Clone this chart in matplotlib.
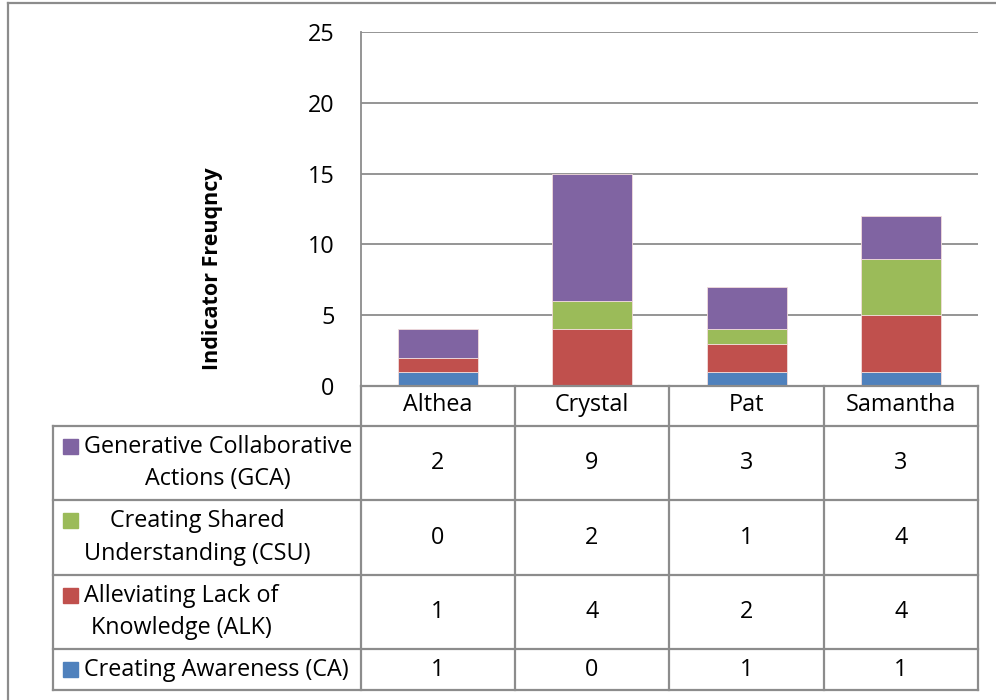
import matplotlib
matplotlib.use("Agg")
import matplotlib.pyplot as plt
from matplotlib.lines import Line2D
from matplotlib.patches import Rectangle

# Data
people = ["Althea", "Crystal", "Pat", "Samantha"]
series_names = [
    "Creating Awareness (CA)",
    "Alleviating Lack of\nKnowledge (ALK)",
    "Creating Shared\nUnderstanding (CSU)",
    "Generative Collaborative\nActions (GCA)",
]
ca = [1, 0, 1, 1]
alk = [1, 4, 2, 4]
csu = [0, 2, 1, 4]
gca = [2, 9, 3, 3]
colors = ["#4F81BD", "#C0504D", "#9BBB59", "#8064A2"]
y_ticks = [0, 5, 10, 15, 20, 25]

W, H = 996, 700
FONT = "Open Sans"
FS = 16.8
GRID = "#8c8c8c"

fig = plt.figure(figsize=(W / 100, H / 100), dpi=100)
fig.patch.set_facecolor("white")


def fx(px):
    return px / W


def fy(py):
    return 1 - py / H


# plot area in pixel coordinates
L, R, T, B = 361, 978, 32, 386
ax = fig.add_axes([fx(L), fy(B), fx(R) - fx(L), fy(T) - fy(B)])
ax.set_xlim(-0.5, len(people) - 0.5)
ax.set_ylim(0, 25)

series = [ca, alk, csu, gca]
bottom = [0] * len(people)
for vals, col in zip(series, colors):
    ax.bar(range(len(people)), vals, width=0.52, bottom=bottom, color=col,
           edgecolor="#f2dcdb", linewidth=0.6, zorder=3)
    bottom = [b + v for b, v in zip(bottom, vals)]

ax.set_yticks(y_ticks)
ax.set_yticklabels([str(t) for t in y_ticks], fontsize=FS, family=FONT)
ax.tick_params(axis="y", length=0, pad=19)
ax.set_xticks([])
for y in y_ticks[1:]:
    ax.axhline(y, color=GRID, lw=1.3, zorder=1)
for s in ["top", "right", "bottom"]:
    ax.spines[s].set_visible(False)
ax.spines["left"].set_color(GRID)
ax.spines["left"].set_linewidth(1.3)

fig.text(fx(212), fy(269), "Indicator Freuqncy", rotation=90, ha="center",
         va="center", fontsize=15.5, fontweight="bold", family=FONT)

# data table below the plot
col_x = [361, 515, 669, 824, 978]
row_y = [386, 426, 500, 575, 649, 690]
tl = 53


def hline(x0, x1, y):
    fig.add_artist(Line2D([fx(x0), fx(x1)], [fy(y), fy(y)], color=GRID, lw=1.6))


def vline(x, y0, y1):
    fig.add_artist(Line2D([fx(x), fx(x)], [fy(y0), fy(y1)], color=GRID, lw=1.6))


hline(col_x[0], col_x[-1], row_y[0])
for y in row_y[1:]:
    hline(tl, col_x[-1], y)
vline(tl, row_y[1], row_y[-1])
for x in col_x:
    vline(x, row_y[0], row_y[-1])

# header row
for i, name in enumerate(people):
    cx = (col_x[i] + col_x[i + 1]) / 2
    fig.text(fx(cx), fy((row_y[0] + row_y[1]) / 2 - 1), name, ha="center",
             va="center", fontsize=FS, family=FONT)

# value rows, top row is the last series
for r in range(4):
    si = 3 - r
    y0, y1 = row_y[r + 1], row_y[r + 2]
    cy = (y0 + y1) / 2
    sq_center = cy if r == 3 else y0 + 20
    fig.add_artist(Rectangle((fx(63), fy(sq_center + 7.5)), fx(15), 15 / H,
                             color=colors[si]))
    fig.text(fx(84), fy(cy), series_names[si], ha="left", va="center",
             multialignment="center", fontsize=FS, family=FONT, linespacing=1.45)
    vals = series[si]
    for i, v in enumerate(vals):
        cx = (col_x[i] + col_x[i + 1]) / 2
        fig.text(fx(cx), fy(cy), str(v), ha="center", va="center",
                 fontsize=FS, family=FONT)

# outer chart border
fig.add_artist(Line2D([fx(7.5), fx(7.5)], [fy(2.5), 0], color=GRID, lw=1.6))
fig.add_artist(Line2D([fx(7.5), 1], [fy(2.5), fy(2.5)], color=GRID, lw=1.6))

fig.savefig("out.png", dpi=100)
